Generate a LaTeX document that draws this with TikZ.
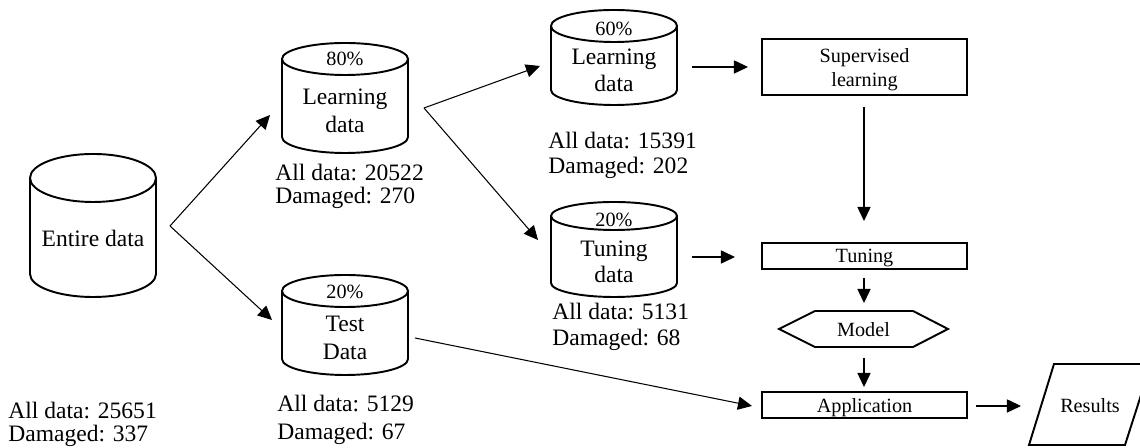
\documentclass[tikz,border=0pt]{standalone}
\usepackage{fontspec}
\setmainfont{Liberation Serif}
\usetikzlibrary{arrows.meta}
\newcommand{\mycyl}[6]{% cx ytop ybot rx rytop rybot
  \draw[cyl] (#1-#4,#2) -- (#1-#4,#3) arc[start angle=180,end angle=360,x radius=#4*0.02cm,y radius=#6*0.02cm] -- (#1+#4,#2);
  \draw[cyl] (#1,#2) ellipse[x radius=#4*0.02cm,y radius=#5*0.02cm];}
\begin{document}
\begin{tikzpicture}[x=0.02cm,y=0.02cm,
  cyl/.style={line width=1.1pt},
  box/.style={draw,line width=1.1pt,minimum width=4.1cm,inner sep=0pt},
  conn/.style={line width=0.6pt,-{Triangle[length=8pt,width=7.5pt]}},
  big/.style={font=\fontsize{13.4}{15}\selectfont,inner sep=0pt},
  small/.style={font=\fontsize{11.5}{13}\selectfont,inner sep=0pt}]
\useasboundingbox (0,0) rectangle (1140,448);
\clip (0,0) rectangle (1140,448);

% cylinders
\mycyl{93}{270}{174}{63}{24}{23}
\mycyl{345}{389}{311}{63}{16}{16}
\mycyl{614}{422}{358}{63}{16}{15}
\mycyl{614}{232}{165}{63}{14}{14}
\mycyl{345}{157}{89}{63}{16}{16}

% cylinder texts
\node[big,anchor=base] (ent) at (93,201) {Entire data};
\node[small,anchor=base] (p80) at (345,382) {80\%};
\node[big,anchor=base] (la80) at (345,343) {Learning};
\node[big,anchor=base] (lb80) at (345,315) {data};
\node[small,anchor=base] (p60) at (614,412) {60\%};
\node[big,anchor=base] (la60) at (614,383) {Learning};
\node[big,anchor=base] (lb60) at (614,356) {data};
\node[small,anchor=base] (ptd) at (614,221) {20\%};
\node[big,anchor=base] (tatd) at (614,191) {Tuning};
\node[big,anchor=base] (tbtd) at (614,165) {data};
\node[small,anchor=base] (pte) at (345,149) {20\%};
\node[big,anchor=base] (tate) at (345,116) {Test};
\node[big,anchor=base] (tbte) at (345,88) {Data};

% labels
\node[big,anchor=base west] (a1) at (8,29) {All data: 25651};
\node[big,anchor=base west] (d1) at (8,6) {Damaged: 337};
\node[big,anchor=base west] (a2) at (275,267) {All data: 20522};
\node[big,anchor=base west] (d2) at (275,244) {Damaged: 270};
\node[big,anchor=base west] (a3) at (548,299) {All data: 15391};
\node[big,anchor=base west] (d3) at (548,274) {Damaged: 202};
\node[big,anchor=base west] (a4) at (552,128) {All data: 5131};
\node[big,anchor=base west] (d4) at (552,102) {Damaged: 68};
\node[big,anchor=base west] (a5) at (277,36) {All data: 5129};
\node[big,anchor=base west] (d5) at (277,8) {Damaged: 67};

% boxes
\node[box,minimum height=1.12cm] (sup) at (864.5,381) {};
\node[small,anchor=base] (sup1) at (864.5,385) {Supervised};
\node[small,anchor=base] (sup2) at (864.5,361) {learning};
\node[box,minimum height=0.52cm] (tun) at (864.5,192) {};
\node[small,anchor=base] (tunt) at (864.5,185) {Tuning};
\node[box,minimum height=0.52cm] (app) at (864.5,43) {};
\node[small,anchor=base] (appt) at (864.5,35) {Application};
\draw[cyl] (779,119) -- (815,137) -- (913,137) -- (948,119) -- (913,101) -- (815,101) -- cycle;
\node[small,anchor=base] (mod) at (863.5,111) {Model};
\draw[cyl] (1054,84) -- (1151,84) -- (1125,3) -- (1029,3) -- cycle;
\node[small,anchor=base] (res) at (1090,35) {Results};

% connector points
\coordinate (eA) at (170,222);
\coordinate (eU) at (270,333);
\coordinate (eD) at (272,128);
\coordinate (lA) at (424,340);
\coordinate (lU) at (540,382);
\coordinate (lD) at (538,208);
\coordinate (s0) at (692,381);
\coordinate (s1) at (748,381);
\coordinate (v0) at (864,341);
\coordinate (v1) at (864,227);
\coordinate (t0) at (692,191);
\coordinate (t1) at (735,191);
\coordinate (m0) at (864,170);
\coordinate (m1) at (864,145);
\coordinate (n0) at (864,90);
\coordinate (n1) at (864,61);
\coordinate (q0) at (415,110);
\coordinate (q1) at (752,42);
\coordinate (r0) at (976,42);
\coordinate (r1) at (1021,42);

\draw[conn] (eA) -- (eU);
\draw[conn] (eA) -- (eD);
\draw[conn] (lA) -- (lU);
\draw[conn] (lA) -- (lD);
\draw[conn] (s0) -- (s1);
\draw[conn] (v0) -- (v1);
\draw[conn] (t0) -- (t1);
\draw[conn] (m0) -- (m1);
\draw[conn] (n0) -- (n1);
\draw[conn] (q0) -- (q1);
\draw[conn] (r0) -- (r1);
\end{tikzpicture}
\end{document}
